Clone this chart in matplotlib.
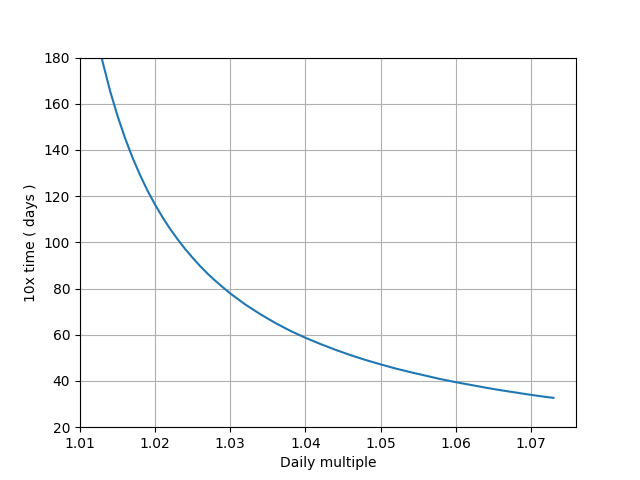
import matplotlib
matplotlib.use('Agg')
import matplotlib.pyplot as plt

# Daily multiple vs. days needed to grow 10x
daily_multiple = [1.012, 1.013, 1.014, 1.015, 1.016, 1.017, 1.018, 1.019, 1.020,
                  1.021, 1.022, 1.023, 1.024, 1.025, 1.026, 1.027, 1.028,
                  1.029, 1.030, 1.032, 1.034, 1.036, 1.038, 1.040, 1.042,
                  1.044, 1.046, 1.048, 1.050, 1.052, 1.054, 1.056, 1.058,
                  1.060, 1.062, 1.064, 1.066, 1.068, 1.070, 1.072, 1.073]
days_10x = [193.0, 178.3, 165.6, 154.7, 145.1, 136.6, 129.1, 122.3, 116.3,
            110.8, 105.8, 101.3, 97.1, 93.3, 89.7, 86.4, 83.4,
            80.6, 77.9, 73.1, 68.9, 65.1, 61.7, 58.7, 56.0,
            53.5, 51.2, 49.1, 47.2, 45.4, 43.8, 42.3, 40.8,
            39.5, 38.3, 37.1, 36.0, 35.0, 34.0, 33.1, 32.7]

fig, ax = plt.subplots(figsize=(6.4, 4.8), dpi=100)
ax.plot(daily_multiple, days_10x)
ax.set_xlim(1.01, 1.076)
ax.set_ylim(20, 180)
ax.set_xlabel('Daily multiple')
ax.set_ylabel('10x time ( days )')
ax.grid(True)

fig.savefig('out.png')
